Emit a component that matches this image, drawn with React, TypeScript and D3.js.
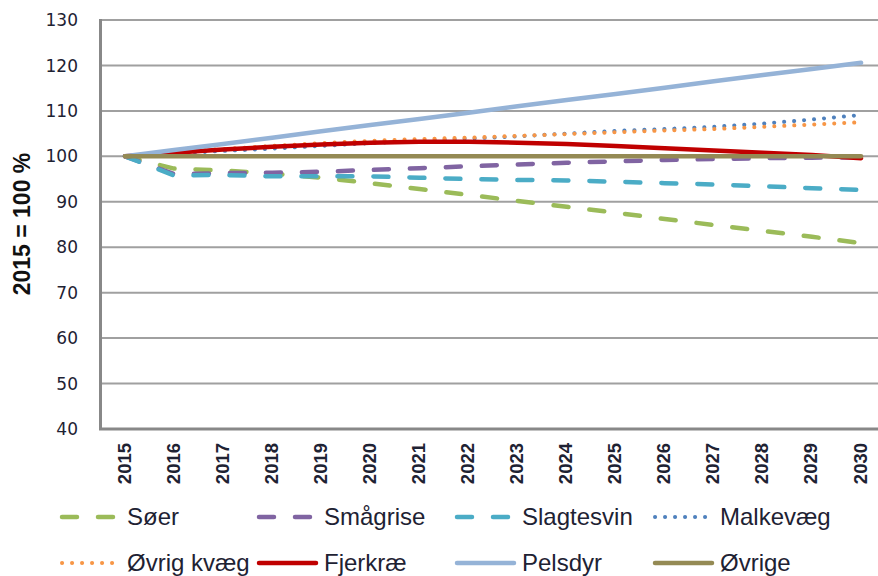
import React from "react";
import * as d3 from "d3";

// data (index 2015 = 100)
const years = ["2015", "2016", "2017", "2018", "2019", "2020", "2021", "2022", "2023", "2024", "2025", "2026", "2027", "2028", "2029", "2030"];
const yTicks = [40, 50, 60, 70, 80, 90, 100, 110, 120, 130];

const soer = [100, 97.3, 96.9, 96.2, 95.3, 94.1, 92.8, 91.5, 90.2, 88.9, 87.6, 86.2, 84.9, 83.6, 82.3, 80.9];
const smaagrise = [100, 96.1, 96.3, 96.4, 96.6, 97.0, 97.4, 97.8, 98.2, 98.6, 98.9, 99.2, 99.4, 99.6, 99.7, 99.8];
const slagtesvin = [100, 95.8, 95.9, 95.6, 95.6, 95.6, 95.3, 95.0, 94.8, 94.7, 94.4, 94.1, 93.8, 93.4, 93.0, 92.6];
const malkevaeg = [100, 100.6, 101.2, 101.7, 102.3, 102.9, 103.4, 103.9, 104.4, 105.0, 105.6, 106.0, 106.5, 107.2, 108.1, 109.1];
const oevrigKvaeg = [100, 100.9, 101.6, 102.3, 102.9, 103.4, 103.8, 104.1, 104.5, 104.9, 105.3, 105.7, 106.0, 106.5, 107.0, 107.5];
const fjerkrae = [100, 100.8, 101.5, 102.1, 102.6, 103.0, 103.2, 103.2, 103.0, 102.7, 102.3, 101.8, 101.3, 100.8, 100.3, 99.6];
const pelsdyr = [100, 101.4, 102.7, 104.1, 105.5, 106.9, 108.2, 109.6, 111.0, 112.4, 113.7, 115.1, 116.5, 117.9, 119.2, 120.6];
const oevrige = [100, 100, 100, 100, 100, 100, 100, 100, 100, 100, 100, 100, 100, 100, 100, 100];

const seriesNames = ["Søer", "Smågrise", "Slagtesvin", "Malkevæg", "Øvrig kvæg", "Fjerkræ", "Pelsdyr", "Øvrige"];
const seriesValues = [soer, smaagrise, slagtesvin, malkevaeg, oevrigKvaeg, fjerkrae, pelsdyr, oevrige];
const seriesColors = ["#9bbb59", "#8064a2", "#4bacc6", "#4f81bd", "#f79646", "#c00000", "#95b3d7", "#948a54"];
const seriesStyles = ["dash", "dash", "dash", "dot", "dot", "solid", "solid", "solid"];

const W = 878, H = 576;
const plot = { left: 100.5, right: 885.6, top: 20, bottom: 429 };

const styleProps = (s: string) => {
  if (s === "dash") return { strokeWidth: 4.5, strokeDasharray: "15 21", strokeLinecap: "round" as const };
  if (s === "dot") return { strokeWidth: 4, strokeDasharray: "0.1 9.9", strokeLinecap: "round" as const };
  return { strokeWidth: 4.5, strokeLinecap: "round" as const };
};

export default function App() {
  const x = d3.scaleBand().domain(years).range([plot.left, plot.right]);
  const y = d3.scaleLinear().domain([40, 130]).range([plot.bottom, plot.top]);
  const cx = (yr: string) => (x(yr) as number) + x.bandwidth() / 2;

  const line = d3.line<number>()
    .x((_, i) => cx(years[i]))
    .y(d => y(d));

  // legend layout: 4 columns, 2 rows
  const legendCols = [60, 257, 455, 653];
  const legendRows = [517, 563];

  return (
    <svg width={W} height={H} style={{ position: "absolute", left: 0, top: 0, background: "#fff" }}>
      {/* gridlines */}
      {yTicks.filter(t => t > 40).map(t => (
        <line key={t} x1={plot.left} x2={W} y1={y(t)} y2={y(t)} stroke="#a0a0a0" strokeWidth={2} />
      ))}
      {/* axes */}
      <line x1={plot.left} x2={plot.left} y1={plot.top - 1} y2={plot.bottom} stroke="#888" strokeWidth={3} />
      <line x1={plot.left - 1.5} x2={W} y1={plot.bottom} y2={plot.bottom} stroke="#888" strokeWidth={3} />

      {/* y tick labels */}
      {yTicks.map(t => (
        <text key={t} x={78} y={y(t)} dy="0.36em" textAnchor="end"
          fontFamily="DejaVu Sans" fontSize={17} fill="#1e2233">{t}</text>
      ))}

      {/* x tick labels */}
      {years.map(yr => (
        <text key={yr} transform={`translate(${cx(yr) + 5.5},443) rotate(-90)`} textAnchor="end"
          fontFamily="Liberation Sans" fontWeight="bold" fontSize={18.5} fill="#1e2233">{yr}</text>
      ))}

      {/* y axis title */}
      <text transform="translate(30,224) rotate(-90)" textAnchor="middle"
        fontFamily="Liberation Sans" fontWeight="bold" fontSize={23} fill="#111">2015 = 100 %</text>

      {/* series */}
      {seriesValues.map((vals, i) => (
        <path key={seriesNames[i]} d={line(vals) || ""} fill="none" stroke={seriesColors[i]}
          strokeLinejoin="round" {...styleProps(seriesStyles[i])} />
      ))}

      {/* legend */}
      {seriesNames.map((name, i) => {
        const lx = legendCols[i % 4];
        const ly = legendRows[Math.floor(i / 4)];
        const solid = seriesStyles[i] === "solid";
        return (
          <g key={name}>
            <line x1={lx + 2} x2={lx + (solid ? 59 : 55)} y1={ly} y2={ly} stroke={seriesColors[i]}
              {...styleProps(seriesStyles[i])} />
            <text x={lx + 67} y={ly} dy="0.35em" fontFamily="Liberation Sans" fontSize={24} fill="#1e2233">{name}</text>
          </g>
        );
      })}
    </svg>
  );
}
